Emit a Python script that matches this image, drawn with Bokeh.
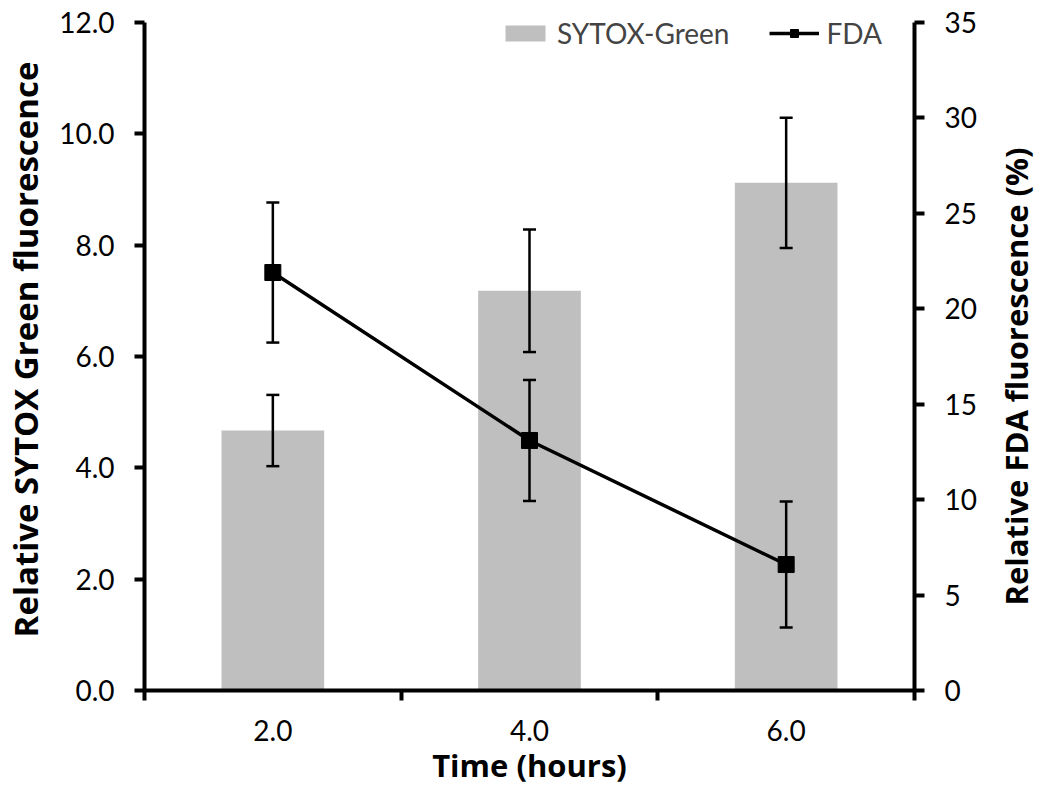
from bokeh.plotting import figure
from bokeh.layouts import row
from bokeh.models import (Range1d, LinearAxis, FixedTicker, NumeralTickFormatter,
                          ColumnDataSource, Whisker, TeeHead, Legend, LegendItem)
from bokeh.core.properties import value
from bokeh.embed import file_html
from bokeh.resources import INLINE
import math

# ---- data ----
time_hours = [2.0, 4.0, 6.0]
sytox_mean = [4.67, 7.18, 9.12]
sytox_err = [0.64, 1.10, 1.17]
fda_mean = [21.9, 13.1, 6.6]
fda_err = [3.67, 3.17, 3.3]
left_ticks = [0, 2, 4, 6, 8, 10, 12]
right_ticks = [0, 5, 10, 15, 20, 25, 30, 35]
left_max = 12
right_max = 35
x_title = "Time (hours)"
left_title = "Relative SYTOX Green fluorescence"
right_title = "Relative FDA fluorescence (%)"

FONT = "Lato"
TFONT = "Open Sans"
TICK_FS = "28px"

# frame spans a little above the top tick so the legend is not clipped
HEADROOM = 682 / 668

sy_src = ColumnDataSource(dict(x=time_hours, top=sytox_mean,
                               upper=[m + e for m, e in zip(sytox_mean, sytox_err)],
                               lower=[m - e for m, e in zip(sytox_mean, sytox_err)]))
fda_src = ColumnDataSource(dict(x=time_hours, y=fda_mean,
                                upper=[m + e for m, e in zip(fda_mean, fda_err)],
                                lower=[m - e for m, e in zip(fda_mean, fda_err)]))

p = figure(width=980, height=797, output_backend="svg", toolbar_location=None,
           x_range=Range1d(1, 7), y_range=Range1d(0, left_max * HEADROOM),
           min_border_left=143, min_border_right=66, min_border_top=8, min_border_bottom=107)
p.outline_line_color = None
p.xgrid.visible = False
p.ygrid.visible = False
p.extra_y_ranges = {"fda": Range1d(0, right_max * HEADROOM)}

bars = p.vbar(x="x", top="top", width=0.8, source=sy_src, fill_color="#bfbfbf", line_color=None)
w1 = Whisker(source=sy_src, base="x", upper="upper", lower="lower",
             line_color="black", line_width=2.5, level="overlay",
             upper_head=TeeHead(size=13, line_width=2.5, line_color="black"),
             lower_head=TeeHead(size=13, line_width=2.5, line_color="black"))
p.add_layout(w1)

ln = p.line("x", "y", source=fda_src, y_range_name="fda", line_color="black", line_width=3.5)
w2 = Whisker(source=fda_src, base="x", upper="upper", lower="lower", y_range_name="fda",
             line_color="black", line_width=2.5, level="overlay",
             upper_head=TeeHead(size=13, line_width=2.5, line_color="black"),
             lower_head=TeeHead(size=13, line_width=2.5, line_color="black"))
p.add_layout(w2)
sq = p.scatter("x", "y", source=fda_src, y_range_name="fda", marker="square", size=16,
               fill_color="black", line_color="black", level="overlay")

# x axis
xa = p.xaxis[0]
xa.ticker = FixedTicker(ticks=time_hours, minor_ticks=[1, 3, 5, 7])
xa.formatter = NumeralTickFormatter(format="0.0")
xa.major_tick_out = 0
xa.major_tick_in = 0
xa.minor_tick_out = 10
xa.minor_tick_in = 0
xa.minor_tick_line_width = 4
xa.minor_tick_line_color = "black"
xa.axis_line_width = 4
xa.axis_line_color = "black"
xa.axis_label = x_title
xa.axis_label_text_font_size = "31px"

# left axis
ya = p.yaxis[0]
ya.ticker = FixedTicker(ticks=left_ticks)
ya.formatter = NumeralTickFormatter(format="0.0")
ya.bounds = (0, left_max)
ya.axis_label = left_title
ya.axis_label_text_font_size = "33px"

# right axis (its title is drawn in the narrow panel next to the plot)
ra = LinearAxis(y_range_name="fda", ticker=FixedTicker(ticks=right_ticks),
                formatter=NumeralTickFormatter(format="0"), bounds=(0, right_max))
p.add_layout(ra, "right")

for ax in (ya, ra):
    ax.major_tick_out = 10
    ax.major_tick_in = 0
    ax.minor_tick_out = 0
    ax.minor_tick_in = 0
    ax.major_tick_line_width = 4
    ax.major_tick_line_color = "black"
    ax.axis_line_width = 4
    ax.axis_line_color = "black"

for ax in (xa, ya, ra):
    ax.major_label_text_font = FONT
    ax.major_label_text_font_size = TICK_FS
    ax.major_label_text_color = "black"
    ax.axis_label_text_font = TFONT
    ax.axis_label_text_font_style = "bold"
    ax.axis_label_text_color = "black"

xa.major_label_standoff = 19
xa.axis_label_standoff = 0
ya.major_label_standoff = 20
ya.axis_label_standoff = 8
ra.major_label_standoff = 20

legend = Legend(items=[LegendItem(label="SYTOX-Green", renderers=[bars]),
                       LegendItem(label="FDA", renderers=[ln, sq])],
                orientation="horizontal", location=(356, 640),
                label_text_font=FONT, label_text_font_size=TICK_FS,
                glyph_width=50, glyph_height=20, label_standoff=7, spacing=40,
                padding=0, margin=0, border_line_color=None, background_fill_alpha=0)
p.add_layout(legend)

# narrow panel holding the right-hand axis title, reading bottom to top
pt = figure(width=66, height=797, output_backend="svg", toolbar_location=None,
            x_range=Range1d(0, 66), y_range=Range1d(797, 0),
            min_border=0, x_axis_type=None, y_axis_type=None)
pt.outline_line_color = None
pt.xgrid.visible = False
pt.ygrid.visible = False
pt.text(x=[35], y=[430], text=[right_title], angle=math.pi / 2,
        text_align="center", text_baseline="middle",
        text_font=value(TFONT), text_font_style="bold", text_font_size="31px",
        text_color="black")

layout = row(p, pt, spacing=0)
open("out.html", "w").write(file_html(layout, INLINE))
